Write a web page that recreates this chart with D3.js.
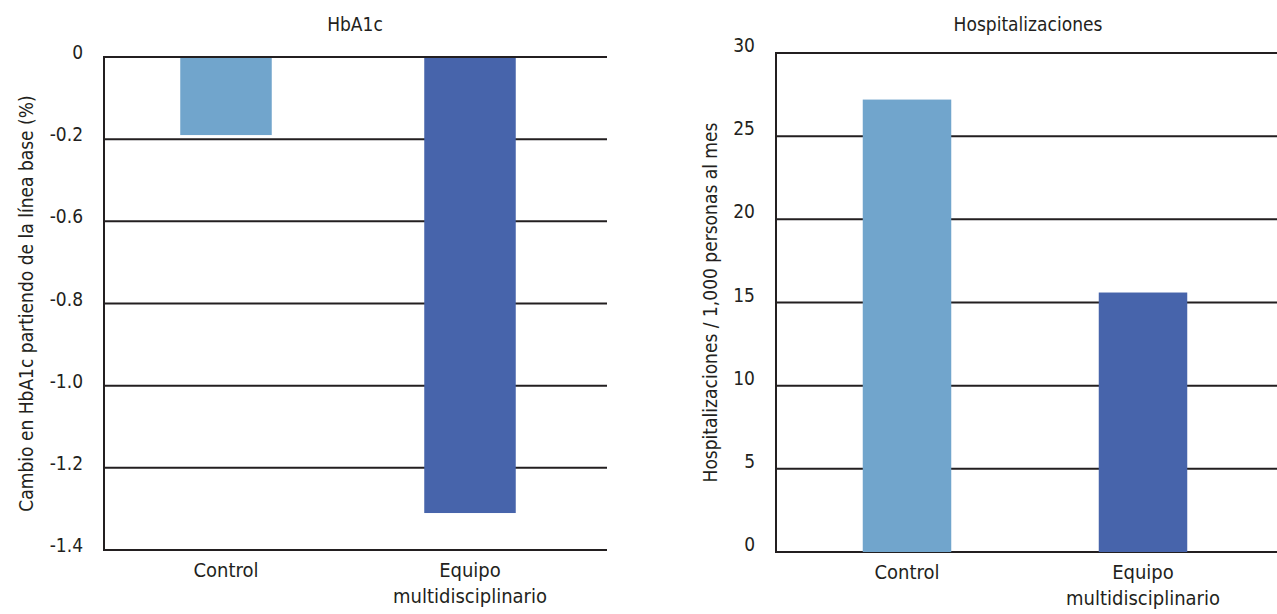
<!DOCTYPE html>
<html>
<head>
<meta charset="utf-8">
<script src="https://cdn.jsdelivr.net/npm/d3@7"></script>
<style>
  html, body { margin: 0; padding: 0; background: #fff; }
  svg text { font-family: "Liberation Sans Narrow", "DejaVu Sans Condensed", "Roboto", sans-serif; fill: #231f20; }
</style>
</head>
<body>
<svg id="chart" width="1277" height="614"></svg>
<script>
// Groups compared in both panels
const categories = ["Control", "Equipo multidisciplinario"];
const barColors = ["#71a5cc", "#4764ab"];

// Panel 1: change in HbA1c from baseline (%)
const hba1cTickLabels = ["0", "-0.2", "-0.6", "-0.8", "-1.0", "-1.2", "-1.4"];
const hba1cValues = [-0.19, -1.31];

// Panel 2: hospitalisations per 1,000 persons per month
const hospTickLabels = ["0", "5", "10", "15", "20", "25", "30"];
const hospValues = [27.2, 15.6];

const svg = d3.select("#chart");
const ink = "#231f20";

function drawPanel(opts) {
  const g = svg.append("g");
  const { x0, x1, yTop, yBottom, bandRange, ticks, scaleY, values, title, titleX, yTitle, yTitleX } = opts;

  const x = d3.scaleBand().domain(categories).range(bandRange)
    .paddingInner(0.625).paddingOuter(0.3125);

  // gridlines (tick lines across the plot)
  g.selectAll("line.grid").data(ticks).join("line")
    .attr("x1", x0).attr("x2", x1)
    .attr("y1", d => scaleY(d)).attr("y2", d => scaleY(d))
    .attr("stroke", ink).attr("stroke-width", 2);

  // bars
  g.selectAll("rect.bar").data(values).join("rect")
    .attr("x", (d, i) => x(categories[i]))
    .attr("width", x.bandwidth())
    .attr("y", d => Math.min(scaleY(0), scaleY(d)))
    .attr("height", d => Math.abs(scaleY(d) - scaleY(0)))
    .attr("fill", (d, i) => barColors[i]);

  // zero line stays visible over bars that hang from it
  if (opts.redrawZero) {
    g.append("line").attr("x1", x0).attr("x2", x1)
      .attr("y1", scaleY(0)).attr("y2", scaleY(0))
      .attr("stroke", ink).attr("stroke-width", 2);
  }

  // y axis line
  g.append("line").attr("x1", x0).attr("x2", x0)
    .attr("y1", yTop - 1).attr("y2", yBottom + 1)
    .attr("stroke", ink).attr("stroke-width", 2);

  // y tick labels
  g.selectAll("text.tick").data(ticks).join("text")
    .attr("x", x0 - 21)
    .attr("y", d => scaleY(d) + opts.tickDy)
    .attr("text-anchor", "end")
    .attr("font-size", 19)
    .text((d, i) => opts.tickLabels[i]);

  // category labels
  categories.forEach((c, i) => {
    const cx = x(c) + x.bandwidth() / 2;
    const lines = c === "Equipo multidisciplinario" ? ["Equipo", "multidisciplinario"] : [c];
    lines.forEach((t, j) => {
      g.append("text").attr("x", cx).attr("y", yBottom + 27 + j * 26)
        .attr("text-anchor", "middle").attr("font-size", 20).text(t);
    });
  });

  // panel title
  g.append("text").attr("x", titleX).attr("y", 31)
    .attr("text-anchor", "middle").attr("font-size", 19).text(title);

  // y axis title
  g.append("text")
    .attr("transform", `translate(${yTitleX},${(yTop + yBottom) / 2}) rotate(-90)`)
    .attr("text-anchor", "middle").attr("font-size", 19).text(yTitle);
}

// HbA1c panel: labelled ticks evenly spaced, piecewise-linear scale through them
const hbTicks = hba1cTickLabels.map(Number);
const hbTop = 57, hbBottom = 550;
const yHb = d3.scaleLinear()
  .domain(hbTicks)
  .range(hbTicks.map((d, i) => hbTop + i * (hbBottom - hbTop) / (hbTicks.length - 1)));

drawPanel({
  x0: 104, x1: 607, yTop: hbTop, yBottom: hbBottom,
  bandRange: [104, 592],
  ticks: hbTicks, tickLabels: hba1cTickLabels, tickDy: 2,
  scaleY: yHb, values: hba1cValues,
  title: "HbA1c", titleX: 355,
  yTitle: "Cambio en HbA1c partiendo de la línea base (%)", yTitleX: 33,
  redrawZero: true
});

// Hospitalisations panel
const hoTicks = hospTickLabels.map(Number);
const hoTop = 53, hoBottom = 552;
const yHo = d3.scaleLinear().domain([0, 30]).range([hoBottom, hoTop]);

drawPanel({
  x0: 776, x1: 1277, yTop: hoTop, yBottom: hoBottom,
  bandRange: [789, 1261],
  ticks: hoTicks, tickLabels: hospTickLabels, tickDy: -1,
  scaleY: yHo, values: hospValues,
  title: "Hospitalizaciones", titleX: 1028,
  yTitle: "Hospitalizaciones / 1,000 personas al mes", yTitleX: 717,
  redrawZero: false
});
</script>
</body>
</html>
